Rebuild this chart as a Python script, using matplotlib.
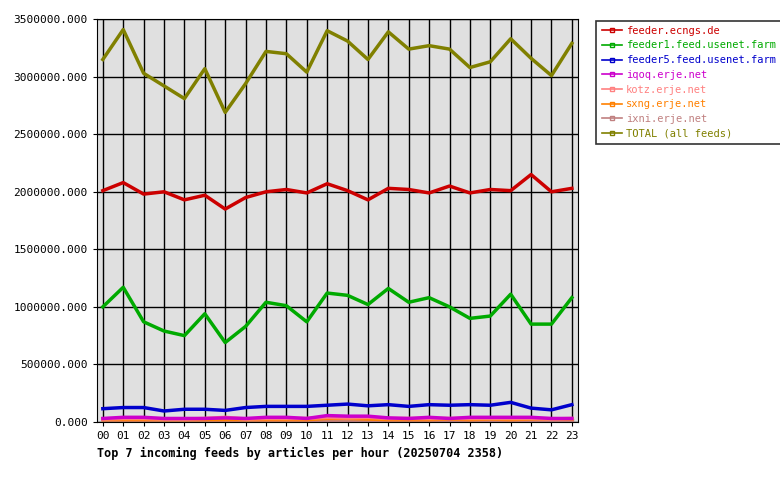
import matplotlib
matplotlib.use("Agg")
import matplotlib.pyplot as plt
from matplotlib.ticker import FuncFormatter, MultipleLocator
from matplotlib.lines import Line2D

hours = ["%02d" % h for h in range(24)]
feeds = ["feeder.ecngs.de", "feeder1.feed.usenet.farm", "feeder5.feed.usenet.farm",
         "iqoq.erje.net", "kotz.erje.net", "sxng.erje.net", "ixni.erje.net", "TOTAL (all feeds)"]
colors = ["#cc0000", "#00aa00", "#0000cc", "#cc00cc", "#ff8080", "#ff8000", "#c08080", "#808000"]

ecngs = [2010000, 2080000, 1980000, 2000000, 1930000, 1970000, 1850000, 1950000, 2000000, 2020000,
         1990000, 2070000, 2010000, 1930000, 2030000, 2020000, 1990000, 2050000, 1990000, 2020000,
         2010000, 2150000, 2000000, 2030000]
feeder1 = [1000000, 1170000, 870000, 790000, 750000, 940000, 690000, 830000, 1040000, 1010000,
           870000, 1120000, 1100000, 1020000, 1160000, 1040000, 1080000, 1000000, 900000, 920000,
           1110000, 850000, 850000, 1080000]
feeder5 = [115000, 125000, 125000, 95000, 110000, 110000, 100000, 125000, 135000, 135000,
           135000, 145000, 155000, 140000, 150000, 135000, 150000, 145000, 150000, 145000,
           170000, 120000, 105000, 150000]
iqoq = [30000, 40000, 40000, 30000, 30000, 30000, 35000, 30000, 40000, 40000,
        30000, 55000, 50000, 50000, 35000, 30000, 40000, 30000, 40000, 40000,
        40000, 40000, 30000, 30000]
kotz = [25000, 30000, 30000, 25000, 25000, 30000, 40000, 25000, 30000, 30000,
        30000, 40000, 35000, 40000, 30000, 30000, 30000, 30000, 30000, 30000,
        30000, 30000, 25000, 30000]
sxng = [20000, 20000, 20000, 20000, 20000, 20000, 20000, 20000, 20000, 20000,
        20000, 30000, 30000, 25000, 20000, 20000, 20000, 25000, 20000, 25000,
        20000, 25000, 25000, 25000]
ixni = [15000, 15000, 15000, 15000, 15000, 15000, 15000, 15000, 15000, 15000,
        15000, 15000, 15000, 15000, 15000, 15000, 15000, 15000, 15000, 15000,
        15000, 15000, 15000, 15000]
total = [3150000, 3410000, 3030000, 2920000, 2810000, 3070000, 2690000, 2940000, 3220000, 3200000,
         3040000, 3400000, 3310000, 3150000, 3390000, 3240000, 3270000, 3240000, 3080000, 3130000,
         3330000, 3160000, 3010000, 3290000]
series = [ecngs, feeder1, feeder5, iqoq, kotz, sxng, ixni, total]

plt.rcParams["font.family"] = "DejaVu Sans Mono"
fig = plt.figure(figsize=(7.8, 4.8), dpi=100)
ax = fig.add_axes([0.124, 0.121, 0.617, 0.839])
ax.set_facecolor("#e0e0e0")
x = list(range(24))
for i in [6, 5, 4, 3, 2, 1, 0, 7]:
    ax.plot(x, series[i], color=colors[i], lw=2.5, solid_joinstyle="round")
ax.set_xlim(-0.3, 23.3)
ax.set_ylim(0, 3500000)
ax.set_xticks(x)
ax.set_xticklabels(hours)
ax.yaxis.set_major_locator(MultipleLocator(500000))
ax.yaxis.set_major_formatter(FuncFormatter(lambda v, p: "%.3f" % v))
ax.tick_params(labelsize=8, length=3)
ax.grid(True, color="black", lw=1)
ax.set_axisbelow(True)
ax.set_xlabel("Top 7 incoming feeds by articles per hour (20250704 2358)",
              fontsize=8.5, fontweight="bold", loc="left", labelpad=4)
lh = [Line2D([0], [0], color=c, lw=1.2, marker="s", markersize=3, markerfacecolor="none") for c in colors]
leg = fig.legend(lh, feeds, loc="upper left", bbox_to_anchor=(0.758, 0.968), fontsize=7.5,
                 frameon=True, fancybox=False, edgecolor="black", handlelength=2.0,
                 handletextpad=0.3, borderpad=0.5, labelspacing=0.45)
leg.get_frame().set_linewidth(1.2)
for t, c in zip(leg.get_texts(), colors):
    t.set_color(c)
fig.savefig("out.png", dpi=100)
